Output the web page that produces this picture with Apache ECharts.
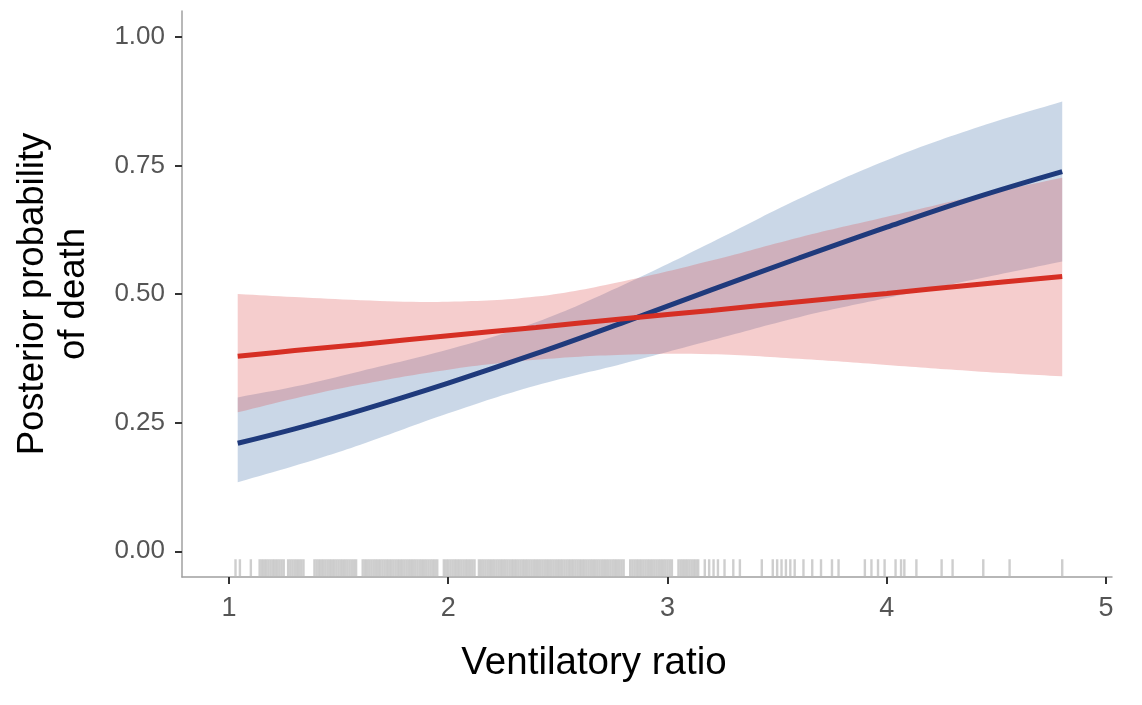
<!DOCTYPE html>
<html>
<head>
<meta charset="utf-8">
<script src="https://cdn.jsdelivr.net/npm/echarts@6/dist/echarts.min.js"></script>
<style>
html,body{margin:0;padding:0;background:#fff;}
#chart{width:1142px;height:705px;}
</style>
</head>
<body>
<div id="chart"></div>
<script>
// x grid of the fitted curves (Ventilatory ratio)
const xs = [1.04, 1.3, 1.6, 2.0, 2.4, 2.8, 3.2, 3.6, 4.0, 4.4, 4.8];
// blue group
const blueMean = [0.210, 0.238, 0.274, 0.327, 0.384, 0.445, 0.508, 0.570, 0.630, 0.687, 0.738];
const blueLow  = [0.134, 0.166, 0.207, 0.268, 0.322, 0.365, 0.410, 0.455, 0.492, 0.528, 0.563];
const blueHigh = [0.299, 0.320, 0.350, 0.392, 0.445, 0.518, 0.600, 0.685, 0.760, 0.822, 0.874];
// red group
const redMean = [0.379, 0.390, 0.402, 0.419, 0.435, 0.452, 0.468, 0.485, 0.501, 0.518, 0.534];
const redLow  = [0.270, 0.297, 0.324, 0.353, 0.372, 0.382, 0.383, 0.374, 0.362, 0.350, 0.340];
const redHigh = [0.500, 0.494, 0.488, 0.485, 0.495, 0.525, 0.565, 0.610, 0.650, 0.690, 0.726];
// rug of observed ventilatory ratios
const rugX = [
1.03, 1.05, 1.10,
1.14, 1.15, 1.16, 1.17, 1.18, 1.19, 1.20, 1.21, 1.22, 1.23, 1.24, 1.25,
1.27, 1.28, 1.29, 1.30, 1.31, 1.32, 1.33, 1.34,
1.39, 1.40, 1.41, 1.42, 1.43, 1.44, 1.45, 1.46, 1.47, 1.48, 1.49, 1.50, 1.51, 1.52, 1.53, 1.54, 1.55, 1.56, 1.57, 1.58,
1.61, 1.62, 1.63, 1.64, 1.65, 1.66, 1.67, 1.68, 1.69, 1.70, 1.71, 1.72, 1.73, 1.74, 1.75, 1.76, 1.77, 1.78, 1.79, 1.80,
1.81, 1.82, 1.83, 1.84, 1.85, 1.86, 1.87, 1.88, 1.89, 1.90, 1.91, 1.92, 1.93, 1.94, 1.95,
1.98, 1.99, 2.00, 2.01, 2.02, 2.03, 2.04, 2.05, 2.06, 2.07, 2.08, 2.09, 2.10, 2.11, 2.12,
2.14, 2.15, 2.16, 2.17, 2.18, 2.19, 2.20, 2.21, 2.22, 2.23, 2.24, 2.25, 2.26, 2.27, 2.28, 2.29, 2.30,
2.31, 2.32, 2.33, 2.34, 2.35, 2.36, 2.37, 2.38, 2.39, 2.40, 2.41, 2.42, 2.43, 2.44, 2.45, 2.46, 2.47, 2.48, 2.49, 2.50,
2.51, 2.52, 2.53, 2.54, 2.55, 2.56, 2.57, 2.58, 2.59, 2.60, 2.61, 2.62, 2.63, 2.64, 2.65, 2.66, 2.67, 2.68, 2.69, 2.70,
2.71, 2.72, 2.73, 2.74, 2.75, 2.76, 2.77, 2.78, 2.79, 2.80,
2.83, 2.84, 2.85, 2.86, 2.87, 2.88, 2.89, 2.90, 2.91, 2.92, 2.93, 2.94, 2.95, 2.96, 2.97, 2.98, 2.99, 3.00, 3.01, 3.02,
3.05, 3.06, 3.07, 3.08, 3.09, 3.10, 3.11, 3.12, 3.13, 3.14,
3.17, 3.19, 3.21, 3.23,
3.26, 3.30, 3.33,
3.43,
3.48, 3.50, 3.52, 3.54, 3.56, 3.58,
3.62, 3.66, 3.70, 3.75, 3.78,
3.90, 3.93, 3.96, 3.99, 4.04, 4.065, 4.08, 4.135,
4.25, 4.30, 4.44, 4.56, 4.80
];
const rugLevel = -0.032;
const xTicks = [1, 2, 3, 4, 5];
const yTicks = [0, 0.25, 0.5, 0.75, 1];

const pair = (a) => xs.map((x, i) => [x, a[i]]);

// band polygon through the library's coordinate system
function bandSeries(name, low, high, color, z) {
  return {
    type: 'custom', name: name, silent: true, z: z,
    data: [[xs[0], low[0]]],
    renderItem: function (params, api) {
      const upper = xs.map((x, i) => api.coord([x, high[i]]));
      const lower = xs.map((x, i) => api.coord([x, low[i]])).reverse();
      const pts = [];
      pts.push(upper[0]);
      upper.forEach(p => pts.push(p));
      pts.push(upper[upper.length - 1]);
      pts.push(lower[0]);
      lower.forEach(p => pts.push(p));
      pts.push(lower[lower.length - 1]);
      return {
        type: 'polygon',
        shape: {points: pts, smooth: 0.4},
        style: {fill: color, stroke: null}
      };
    }
  };
}

const titleFont = "'Liberation Sans',Arial,sans-serif";
const tickFont = "'Liberation Sans',Arial,sans-serif";

const chart = echarts.init(document.getElementById('chart'), null, {renderer: 'canvas'});
chart.setOption({
  animation: false,
  backgroundColor: '#ffffff',
  grid: {left: 182, right: 30, top: 11, bottom: 128, containLabel: false},
  xAxis: {
    type: 'value', min: 0.786, max: 5.027,
    name: 'Ventilatory ratio', nameLocation: 'middle', nameGap: 67,
    nameTextStyle: {fontFamily: titleFont, fontSize: 38.5, color: '#000', padding: [0, 106, 0, 0]},
    axisLine: {show: true, onZero: false, lineStyle: {color: '#a0a0a0', width: 1.5}},
    axisTick: {show: true, customValues: xTicks, length: 7, lineStyle: {color: '#333', width: 2}},
    axisLabel: {customValues: xTicks, margin: 18, fontFamily: tickFont, fontSize: 27, color: '#555'},
    splitLine: {show: false}
  },
  yAxis: {
    type: 'value', min: -0.05, max: 1.05,
    name: 'Posterior probability\nof death', nameLocation: 'middle', nameRotate: 90, nameGap: 88,
    nameTextStyle: {fontFamily: titleFont, fontSize: 36.5, color: '#000', lineHeight: 41, align: 'center'},
    axisLine: {show: true, onZero: false, lineStyle: {color: '#a0a0a0', width: 1.5}},
    axisTick: {show: true, customValues: yTicks, length: 7, lineStyle: {color: '#333', width: 2}},
    axisLabel: {customValues: yTicks, margin: 17, fontFamily: tickFont, fontSize: 26, color: '#555',
      formatter: (v) => v.toFixed(2)},
    splitLine: {show: false}
  },
  series: [
    {type: 'scatter', name: 'rug', data: rugX.map(x => [x, rugLevel]), symbol: 'rect',
     symbolSize: [2.4, 17], itemStyle: {color: '#c2c2c2'}, silent: true, z: 1},
    bandSeries('blueBand', blueLow, blueHigh, 'rgba(72,118,172,0.29)', 2),
    bandSeries('redBand', redLow, redHigh, 'rgba(222,82,82,0.29)', 3),
    {type: 'line', name: 'blueMean', data: pair(blueMean), smooth: 0.4, showSymbol: false,
     lineStyle: {color: '#1f3a7c', width: 5}, z: 4},
    {type: 'line', name: 'redMean', data: pair(redMean), smooth: 0.4, showSymbol: false,
     lineStyle: {color: '#d62f24', width: 5}, z: 5}
  ]
});
</script>
</body>
</html>
